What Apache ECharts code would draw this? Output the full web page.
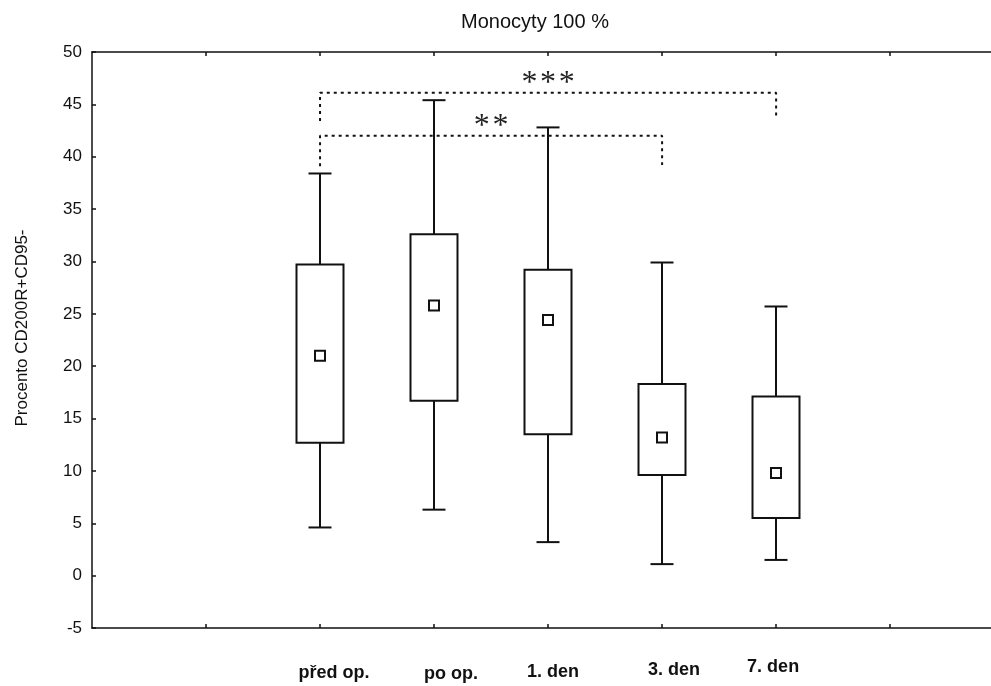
<!DOCTYPE html>
<html>
<head>
<meta charset="utf-8">
<script src="https://cdn.jsdelivr.net/npm/echarts@6/dist/echarts.min.js"></script>
<style>
  html, body { margin: 0; padding: 0; background: #ffffff; }
  #chart { width: 991px; height: 686px; }
</style>
</head>
<body>
<div id="chart"></div>
<script>
// Groups shown along the horizontal axis
const categories = ['před op.', 'po op.', '1. den', '3. den', '7. den'];

// Box-and-whisker statistics per group
const whiskerLow  = [4.6, 6.3, 3.2, 1.1, 1.5];
const boxLow      = [12.7, 16.7, 13.5, 9.6, 5.5];
const centerValue = [21.0, 25.8, 24.4, 13.2, 9.8];
const boxHigh     = [29.7, 32.6, 29.2, 18.3, 17.1];
const whiskerHigh = [38.4, 45.4, 42.8, 29.9, 25.7];

// Vertical axis ticks
const yTicks = [-5, 0, 5, 10, 15, 20, 25, 30, 35, 40, 45, 50];

// Significance brackets
const sigFrom      = ['před op.', 'před op.'];
const sigTo        = ['7. den', '3. den'];
const sigMarks     = ['***', '**'];
const sigLevel     = [46.1, 42.0];
const sigLeftEnd   = [43.4, 39.1];
const sigRightEnd  = [43.9, 39.2];

const titleText = 'Monocyty 100 %';
const yAxisTitle = 'Procento CD200R+CD95-';

// ---- layout ----
const FONT = "'Liberation Sans', Arial, Helvetica, sans-serif";
const FIRST_SLOT = 2;            // axis position of the first group
const X_MAX = 8.06;              // axis runs a little past the right edge
const xTickValues = [1, 2, 3, 4, 5, 6, 7];
const labelNudge = [[14, 673], [17, 674], [5, 672], [12, 670], [-3, 667]];

const slotOf = name => categories.indexOf(name) + FIRST_SLOT;

const boxData = categories.map((c, i) => [
  i + FIRST_SLOT, whiskerLow[i], boxLow[i], centerValue[i], boxHigh[i], whiskerHigh[i]
]);

const chart = echarts.init(document.getElementById('chart'), null, { renderer: 'canvas' });

const bracketSeries = sigMarks.map((m, k) => ({
  type: 'line',
  xAxisIndex: 0,
  yAxisIndex: 0,
  silent: true,
  symbol: 'none',
  animation: false,
  z: 1,
  lineStyle: { color: '#111', width: 2, type: [3, 4] },
  data: [
    [slotOf(sigFrom[k]), sigLeftEnd[k]],
    [slotOf(sigFrom[k]), sigLevel[k]],
    [slotOf(sigTo[k]), sigLevel[k]],
    [slotOf(sigTo[k]), sigRightEnd[k]]
  ]
}));

const tickLine = { color: '#111', width: 1.5 };
const xTickStyle = { show: true, inside: true, length: 4, customValues: xTickValues, lineStyle: tickLine };
const yTickStyle = { show: true, inside: true, length: 4, lineStyle: tickLine };
const axisLineStyle = { show: true, onZero: false, lineStyle: { color: '#111', width: 1.5 } };

chart.setOption({
  animation: false,
  backgroundColor: '#ffffff',
  grid: { left: 92, top: 52, width: 919, bottom: 58, containLabel: false, outerBoundsMode: 'none' },
  xAxis: [
    {
      type: 'value', position: 'bottom', min: 0, max: X_MAX, interval: 1,
      axisLine: axisLineStyle, axisTick: xTickStyle,
      axisLabel: { show: false }, splitLine: { show: false }
    },
    {
      type: 'value', position: 'top', min: 0, max: X_MAX, interval: 1,
      axisLine: axisLineStyle, axisTick: xTickStyle,
      axisLabel: { show: false }, splitLine: { show: false }
    }
  ],
  yAxis: {
    type: 'value',
    min: yTicks[0], max: yTicks[yTicks.length - 1], interval: 5,
    axisLine: axisLineStyle, axisTick: yTickStyle,
    axisLabel: { color: '#111', fontSize: 17, fontFamily: FONT, margin: 10 },
    splitLine: { show: false }
  },
  series: [
    ...bracketSeries,
    {
      type: 'custom',
      xAxisIndex: 0,
      yAxisIndex: 0,
      z: 3,
      data: boxData,
      renderItem(params, api) {
        const x = api.value(0);
        const lo = api.coord([x, api.value(1)]);
        const q1 = api.coord([x, api.value(2)]);
        const mid = api.coord([x, api.value(3)]);
        const q3 = api.coord([x, api.value(4)]);
        const hi = api.coord([x, api.value(5)]);
        const unit = api.size([1, 0])[0];
        const cx = Math.round(lo[0]);
        const boxW = Math.round(unit * 0.41);
        const capW = Math.round(unit * 0.2);
        const stroke = { stroke: '#111', lineWidth: 2, fill: null };
        const sq = 10;
        return {
          type: 'group',
          children: [
            { type: 'line', shape: { x1: cx, y1: hi[1], x2: cx, y2: q3[1] }, style: stroke },
            { type: 'line', shape: { x1: cx, y1: q1[1], x2: cx, y2: lo[1] }, style: stroke },
            { type: 'line', shape: { x1: cx - capW / 2, y1: hi[1], x2: cx + capW / 2, y2: hi[1] }, style: stroke },
            { type: 'line', shape: { x1: cx - capW / 2, y1: lo[1], x2: cx + capW / 2, y2: lo[1] }, style: stroke },
            {
              type: 'rect',
              shape: { x: cx - boxW / 2, y: q3[1], width: boxW, height: q1[1] - q3[1] },
              style: { fill: '#fff', stroke: '#111', lineWidth: 2 }
            },
            {
              type: 'rect',
              shape: { x: cx - sq / 2, y: mid[1] - sq / 2, width: sq, height: sq },
              style: { fill: '#fff', stroke: '#111', lineWidth: 2 }
            }
          ]
        };
      }
    }
  ]
});

// Text placed relative to the axes
function px(x, y) { return chart.convertToPixel({ xAxisIndex: 0, yAxisIndex: 0 }, [x, y]); }

const graphics = [];

graphics.push({
  type: 'text', x: 535, y: 22,
  style: { text: titleText, font: `20px ${FONT}`, fill: '#111', textAlign: 'center', textVerticalAlign: 'middle' }
});

graphics.push({
  type: 'text', x: 22, y: 328, rotation: Math.PI / 2,
  style: { text: yAxisTitle, font: `17px ${FONT}`, fill: '#111', textAlign: 'center', textVerticalAlign: 'middle' }
});

categories.forEach((c, i) => {
  const p = px(i + FIRST_SLOT, 0);
  graphics.push({
    type: 'text', x: p[0] + labelNudge[i][0], y: labelNudge[i][1],
    style: { text: c, font: `bold 18px ${FONT}`, fill: '#111', textAlign: 'center', textVerticalAlign: 'middle' }
  });
});

sigMarks.forEach((m, k) => {
  const midX = (slotOf(sigFrom[k]) + slotOf(sigTo[k])) / 2;
  const p = px(midX, sigLevel[k]);
  graphics.push({
    type: 'text', x: p[0], y: p[1] - 9,
    style: {
      text: m.split('').join('\u200A'),
      font: `32px 'Liberation Serif', 'Times New Roman', serif`,
      fill: '#222', textAlign: 'center', textVerticalAlign: 'middle'
    }
  });
});

chart.setOption({ graphic: graphics });
</script>
</body>
</html>
